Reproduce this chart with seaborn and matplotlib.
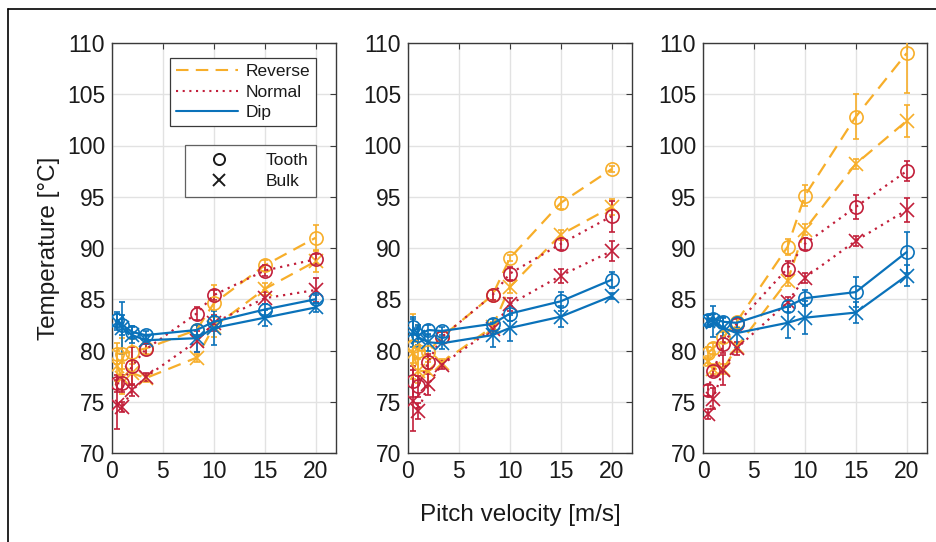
import matplotlib
matplotlib.use("Agg")
import matplotlib.pyplot as plt
from matplotlib.lines import Line2D
import seaborn as sns
import numpy as np
import pandas as pd

# pitch velocities [m/s]
velocity = [0.5, 1, 2, 3.3, 8.3, 10, 15, 20]

# mean temperatures per panel, per mode and location
temp = {
    0: {
        ("Reverse", "Tooth"): [79.7, 79.7, 79.9, 80.2, 82.0, 84.6, 88.3, 91.0],
        ("Reverse", "Bulk"): [78.5, 77.3, 77.8, 77.3, 79.3, 82.3, 86.0, 88.7],
        ("Normal", "Tooth"): [76.8, 76.8, 78.5, 80.1, 83.6, 85.4, 87.8, 88.9],
        ("Normal", "Bulk"): [74.7, 74.5, 76.1, 77.4, 80.9, 82.7, 85.1, 85.9],
        ("Dip", "Tooth"): [83.0, 82.5, 81.8, 81.5, 82.0, 82.8, 84.0, 85.0],
        ("Dip", "Bulk"): [82.8, 82.2, 81.5, 81.0, 81.2, 82.2, 83.2, 84.2],
    },
    1: {
        ("Reverse", "Tooth"): [80.4, 80.0, 79.9, 81.3, 85.4, 89.0, 94.4, 97.7],
        ("Reverse", "Bulk"): [79.8, 78.0, 78.0, 78.8, 82.3, 86.2, 91.3, 94.0],
        ("Normal", "Tooth"): [77.0, 76.5, 78.9, 81.3, 85.4, 87.5, 90.4, 93.1],
        ("Normal", "Bulk"): [75.1, 74.1, 76.7, 78.6, 82.1, 84.5, 87.3, 89.7],
        ("Dip", "Tooth"): [82.3, 81.5, 82.0, 81.9, 82.6, 83.6, 84.8, 86.9],
        ("Dip", "Bulk"): [81.8, 81.3, 80.8, 80.7, 81.5, 82.2, 83.3, 85.3],
    },
    2: {
        ("Reverse", "Tooth"): [79.8, 80.2, 81.3, 82.8, 90.1, 95.1, 102.8, 109.0],
        ("Reverse", "Bulk"): [79.0, 78.2, 78.2, 80.3, 86.8, 91.8, 98.2, 102.4],
        ("Normal", "Tooth"): [76.1, 78.0, 80.6, 82.6, 88.0, 90.4, 94.0, 97.5],
        ("Normal", "Bulk"): [73.8, 75.3, 78.1, 80.2, 84.7, 87.1, 90.7, 93.7],
        ("Dip", "Tooth"): [83.0, 83.1, 82.8, 82.7, 84.3, 85.1, 85.7, 89.6],
        ("Dip", "Bulk"): [82.9, 82.8, 82.2, 81.7, 82.7, 83.2, 83.7, 87.3],
    },
}

# error bar half-lengths
err = {
    0: {
        ("Reverse", "Tooth"): [1.0, 1.5, 1.2, 0.5, 0.5, 1.8, 0.5, 1.2],
        ("Reverse", "Bulk"): [1.5, 1.5, 1.2, 0.4, 0.4, 1.0, 0.6, 1.0],
        ("Normal", "Tooth"): [0.8, 0.8, 1.8, 0.5, 0.6, 0.5, 0.5, 0.5],
        ("Normal", "Bulk"): [2.4, 0.5, 0.5, 0.4, 1.0, 0.8, 0.6, 1.2],
        ("Dip", "Tooth"): [0.8, 1.0, 0.6, 0.4, 0.5, 0.6, 0.5, 0.4],
        ("Dip", "Bulk"): [0.8, 2.5, 0.8, 0.4, 1.3, 1.7, 0.8, 0.4],
    },
    1: {
        ("Reverse", "Tooth"): [3.2, 2.5, 1.0, 0.5, 0.5, 0.3, 0.6, 0.3],
        ("Reverse", "Bulk"): [1.0, 1.2, 1.5, 0.4, 0.5, 0.6, 0.5, 0.8],
        ("Normal", "Tooth"): [1.5, 1.0, 0.8, 0.5, 0.5, 0.6, 0.6, 1.5],
        ("Normal", "Bulk"): [3.0, 0.8, 1.0, 0.4, 0.5, 0.6, 0.7, 1.0],
        ("Dip", "Tooth"): [0.8, 1.0, 0.5, 0.4, 0.5, 0.7, 0.9, 0.8],
        ("Dip", "Bulk"): [1.5, 1.0, 0.8, 0.6, 1.2, 1.3, 1.0, 0.3],
    },
    2: {
        ("Reverse", "Tooth"): [0.5, 0.5, 0.5, 0.5, 0.8, 1.0, 2.2, 3.9],
        ("Reverse", "Bulk"): [0.5, 0.5, 0.5, 0.4, 0.5, 0.5, 0.5, 1.6],
        ("Normal", "Tooth"): [0.5, 0.5, 0.8, 0.5, 0.7, 0.6, 1.2, 1.0],
        ("Normal", "Bulk"): [0.5, 1.0, 1.5, 0.6, 0.5, 0.5, 0.5, 1.2],
        ("Dip", "Tooth"): [0.5, 0.5, 0.5, 0.5, 0.5, 0.8, 1.5, 2.0],
        ("Dip", "Bulk"): [0.6, 1.5, 1.0, 1.5, 1.5, 1.6, 1.0, 1.0],
    },
}

modes = ["Reverse", "Normal", "Dip"]
locations = ["Tooth", "Bulk"]
colors = {"Reverse": "#F7AE2A", "Normal": "#C21F3A", "Dip": "#0A72BA"}
dashes = {"Reverse": (6, 3.5), "Normal": (1, 2.2), "Dip": None}
markers = {"Tooth": "o", "Bulk": "x"}

rows = []
for p in temp:
    for (m, loc), vals in temp[p].items():
        for v, t, e in zip(velocity, vals, err[p][(m, loc)]):
            rows.append(dict(panel=p, mode=m, loc=loc, v=v, T=t, e=e))
df = pd.DataFrame(rows)

sns.set_theme(style="white")
plt.rcParams["font.family"] = ["Liberation Sans", "DejaVu Sans"]
ink = "#1A1A1A"

fig = plt.figure(figsize=(9.37, 5.42), dpi=100)
lefts = [112, 408, 703]
axes = []
for L in lefts:
    axes.append(fig.add_axes([L / 937, 1 - 453 / 542, 224 / 937, 410 / 542]))

for p, ax in enumerate(axes):
    for m in modes:
        for loc in locations:
            sub = df[(df.panel == p) & (df["mode"] == m) & (df["loc"] == loc)]
            ax.errorbar(sub.v, sub["T"], yerr=sub.e, fmt="none", ecolor=colors[m],
                        elinewidth=1.2, capsize=2, capthick=1.2, zorder=3)
            kw = dict(color=colors[m], lw=1.6, marker=markers[loc], markersize=9.5,
                      markeredgewidth=1.2, markeredgecolor=colors[m], zorder=4)
            if loc == "Tooth":
                kw["markerfacecolor"] = "none"
            sns.lineplot(data=sub, x="v", y="T", ax=ax, errorbar=None, legend=False, **kw)
            ln = ax.get_lines()[-1]
            if dashes[m]:
                ln.set_dashes(dashes[m])
            else:
                ln.set_linestyle("-")
    ax.set_xlim(0, 22)
    ax.set_ylim(70, 110)
    ax.set_xticks([0, 5, 10, 15, 20])
    ax.set_yticks(np.arange(70, 111, 5))
    ax.grid(True, color="#E2E2E2", lw=1.0)
    ax.set_axisbelow(True)
    for s in ax.spines.values():
        s.set_color("#3A3A3A")
        s.set_linewidth(1.0)
        s.set_visible(True)
    ax.tick_params(direction="in", length=4, width=0.8, color="#3A3A3A",
                   top=True, right=True, labelsize=16.5, labelcolor=ink, pad=5)
    ax.set_xlabel("")
    ax.set_ylabel("")

axes[0].set_ylabel("Temperature [°C]", fontsize=17.5, color=ink, labelpad=5)
axes[1].set_xlabel("Pitch velocity [m/s]", fontsize=17.5, color=ink, labelpad=15)

mode_handles = []
for m in modes:
    h = Line2D([], [], color=colors[m], lw=1.5)
    if dashes[m]:
        h.set_dashes(dashes[m])
    mode_handles.append(h)
leg1 = axes[0].legend(mode_handles, modes, loc="upper right", bbox_to_anchor=(0.911, 0.963),
                      fontsize=12.5, frameon=True, fancybox=False, handlelength=3.6,
                      handletextpad=0.4, borderpad=0.35, labelspacing=0.3, borderaxespad=0)
leg1.get_frame().set_edgecolor("#3A3A3A")
leg1.get_frame().set_linewidth(0.9)
leg1.get_frame().set_alpha(1)
for t in leg1.get_texts():
    t.set_color(ink)
axes[0].add_artist(leg1)

loc_handles = [Line2D([], [], color=ink, lw=0, marker="o", markersize=8, markeredgewidth=1.4,
                      markerfacecolor="none", markeredgecolor=ink),
               Line2D([], [], color=ink, lw=0, marker="x", markersize=8, markeredgewidth=1.4,
                      markeredgecolor=ink)]
leg2 = axes[0].legend(loc_handles, locations, loc="upper right", bbox_to_anchor=(0.911, 0.751),
                      fontsize=12.5, frameon=True, fancybox=False, handlelength=3.0,
                      handletextpad=1.2, borderpad=0.45, labelspacing=0.35, borderaxespad=0)
leg2.get_frame().set_edgecolor("#3A3A3A")
leg2.get_frame().set_linewidth(0.9)
for t in leg2.get_texts():
    t.set_color(ink)

# outer frame (left and top edges visible)
fig.add_artist(Line2D([8 / 937, 8 / 937], [0, 1 - 9 / 542], color="black", lw=1.2))
fig.add_artist(Line2D([8 / 937, 1], [1 - 9 / 542, 1 - 9 / 542], color="black", lw=1.2))

fig.savefig("out.png", dpi=100)
